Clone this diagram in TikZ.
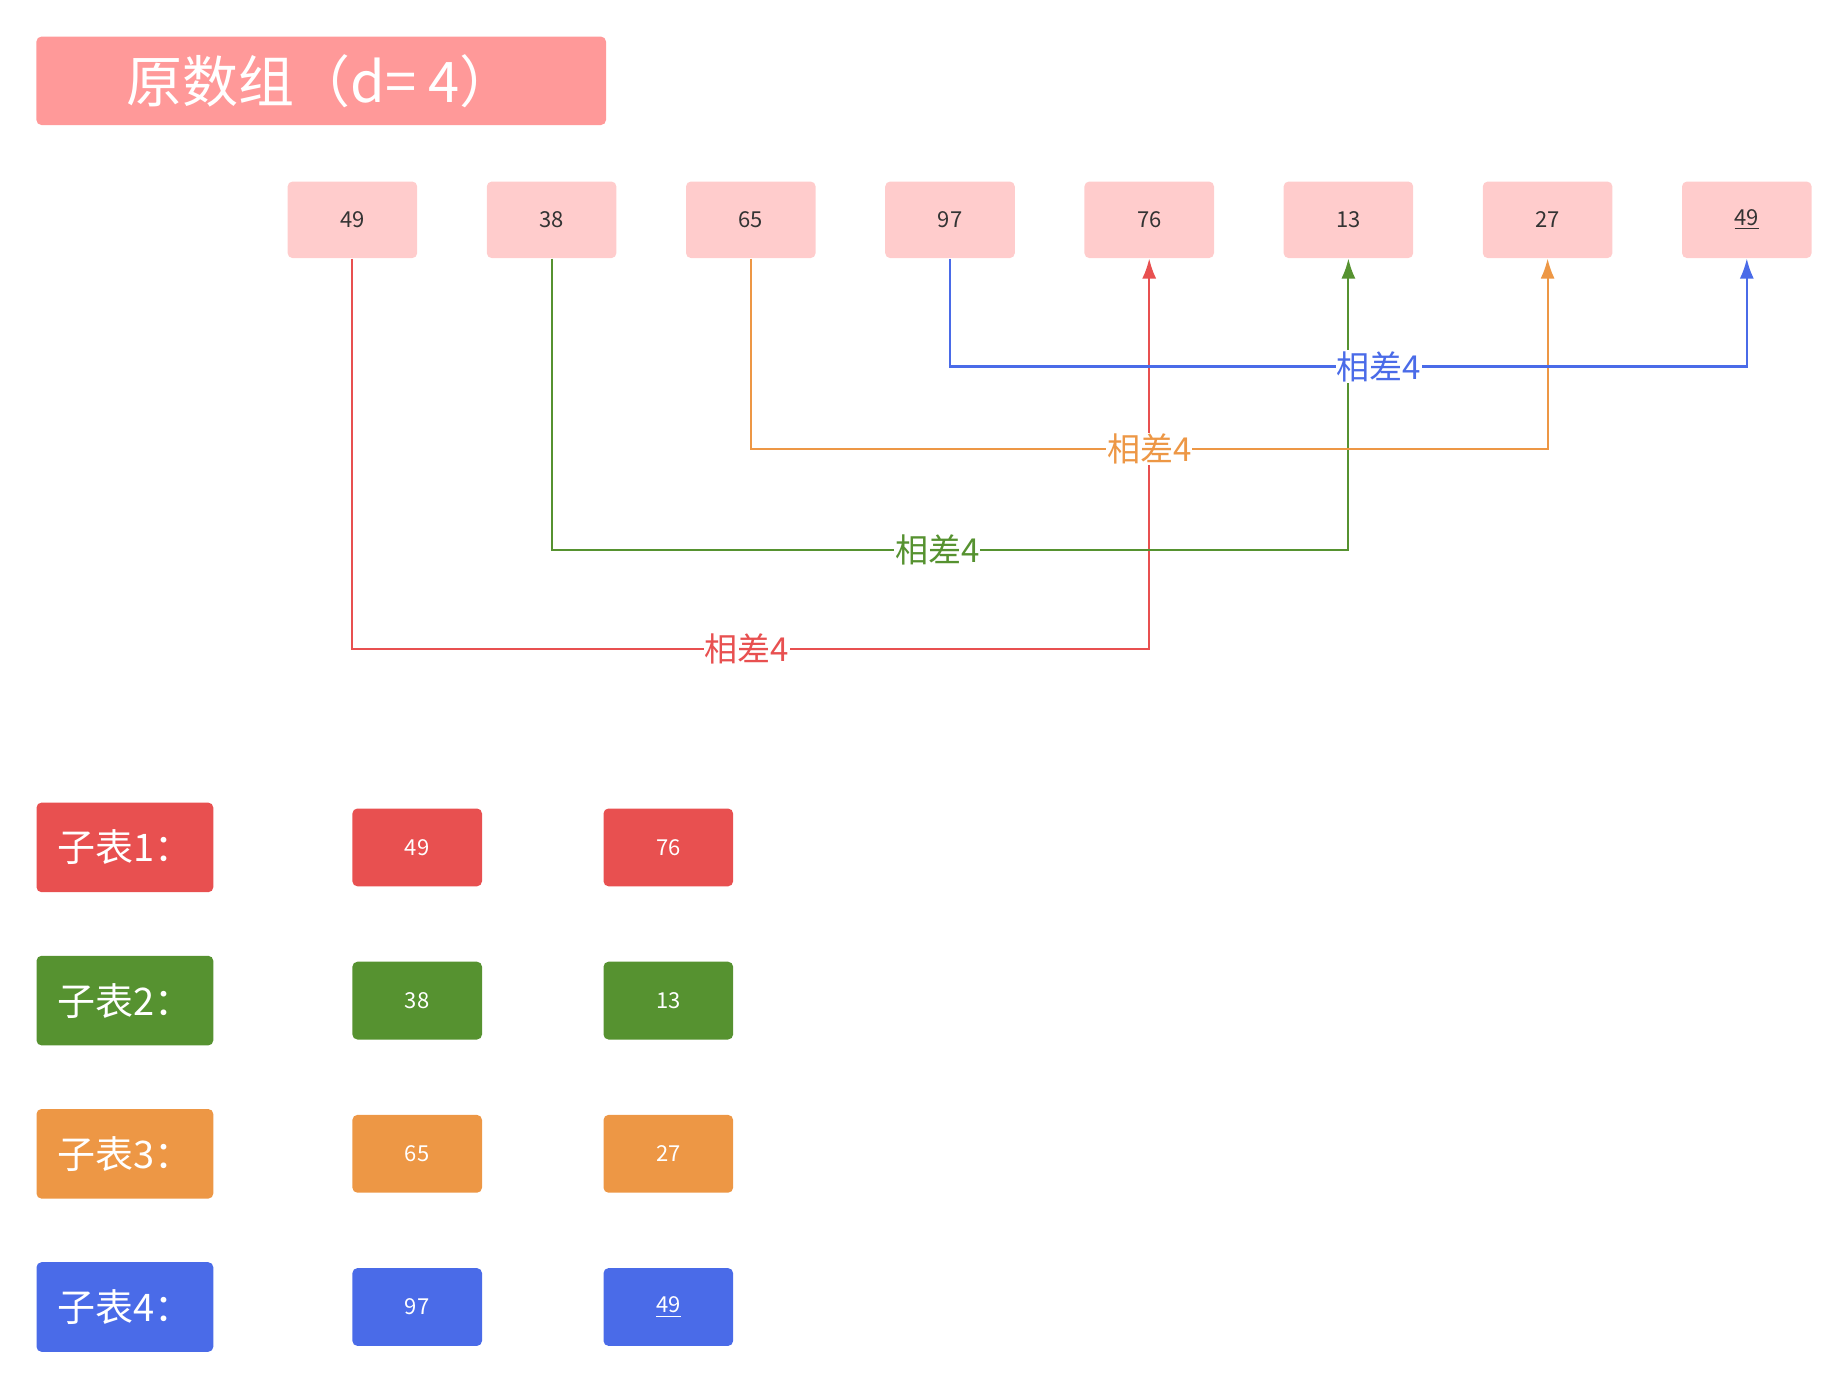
\documentclass[tikz,border=0pt]{standalone}
\usepackage{fontspec}
\setmainfont{Noto Sans CJK SC}
\usetikzlibrary{arrows.meta,positioning}
\definecolor{shtitle}{HTML}{FF9999}
\definecolor{shcell}{HTML}{FFCCCC}
\definecolor{shred}{HTML}{E85050}
\definecolor{shgreen}{HTML}{569230}
\definecolor{shorange}{HTML}{ED9745}
\definecolor{shblue}{HTML}{4A6BE8}
\definecolor{shdark}{HTML}{333333}
\tikzset{
  title/.style={rounded corners=2.5pt,fill=shtitle,text=white,minimum width=284.8pt,minimum height=44.2pt,font=\fontsize{28}{32}\selectfont,inner sep=0pt},
  cell/.style={rounded corners=2.5pt,fill=shcell,text=shdark,minimum width=64.8pt,minimum height=38.3pt,font=\fontsize{11}{13}\selectfont,inner sep=0pt},
  subcell/.style={cell,text=white,minimum height=38.9pt},
  subhead/.style={rounded corners=2.5pt,text=white,minimum width=88.4pt,minimum height=44.8pt,font=\fontsize{19}{22}\selectfont,inner sep=0pt},
  ar/.style={-{Latex[length=10pt,width=7pt]},line width=1.05pt},
  lbl/.style={fill=white,inner sep=0.5pt,font=\fontsize{16.5}{18}\selectfont},
}
\begin{document}
\begin{tikzpicture}[x=0.5pt,y=-0.5pt]
  \useasboundingbox (0,0) rectangle (1848,1387);
  \node[title] (title) at (321.2,80.8) {原数组（d= 4）};
  % original array
  \foreach \v [count=\i] in {49,38,65,97,76,13,27,{\underline{49}}}
    \node[cell] (a\i) at ({352.4+199.2*(\i-1)},219.8) {\v};
  \coordinate (lr) at (0,649.4);
  \coordinate (lg) at (0,550.4);
  \coordinate (lo) at (0,449);
  \coordinate (lb) at (0,366.5);
  \draw[ar,shred] (a1.south) -- (a1.south |- lr) -- node[lbl,text=shred,pos=0.495]{相差4} (a5.south |- lr) -- (a5.south);
  \draw[ar,shgreen] (a2.south) -- (a2.south |- lg) -- node[lbl,text=shgreen,pos=0.484]{相差4} (a6.south |- lg) -- (a6.south);
  \draw[ar,shorange] (a3.south) -- (a3.south |- lo) -- node[lbl,text=shorange,pos=0.5]{相差4} (a7.south |- lo) -- (a7.south);
  \draw[ar,shblue] (a4.south) -- (a4.south |- lb) -- node[lbl,text=shblue,pos=0.538]{相差4} (a8.south |- lb) -- (a8.south);
  % sub tables
  \foreach \c/\x/\y [count=\r] in {shred/49/76,shgreen/38/13,shorange/65/27,shblue/97/{\underline{49}}}{
    \node[subhead,fill=\c] (s\r) at (124.9,{847.4+153.2*(\r-1)}) {子表\r：};
    \node[subcell,fill=\c] (v\r1) at (417.2,{847.4+153.2*(\r-1)}) {\x};
    \node[subcell,fill=\c] (v\r2) at (668.3,{847.4+153.2*(\r-1)}) {\y};
  }
\end{tikzpicture}
\end{document}
